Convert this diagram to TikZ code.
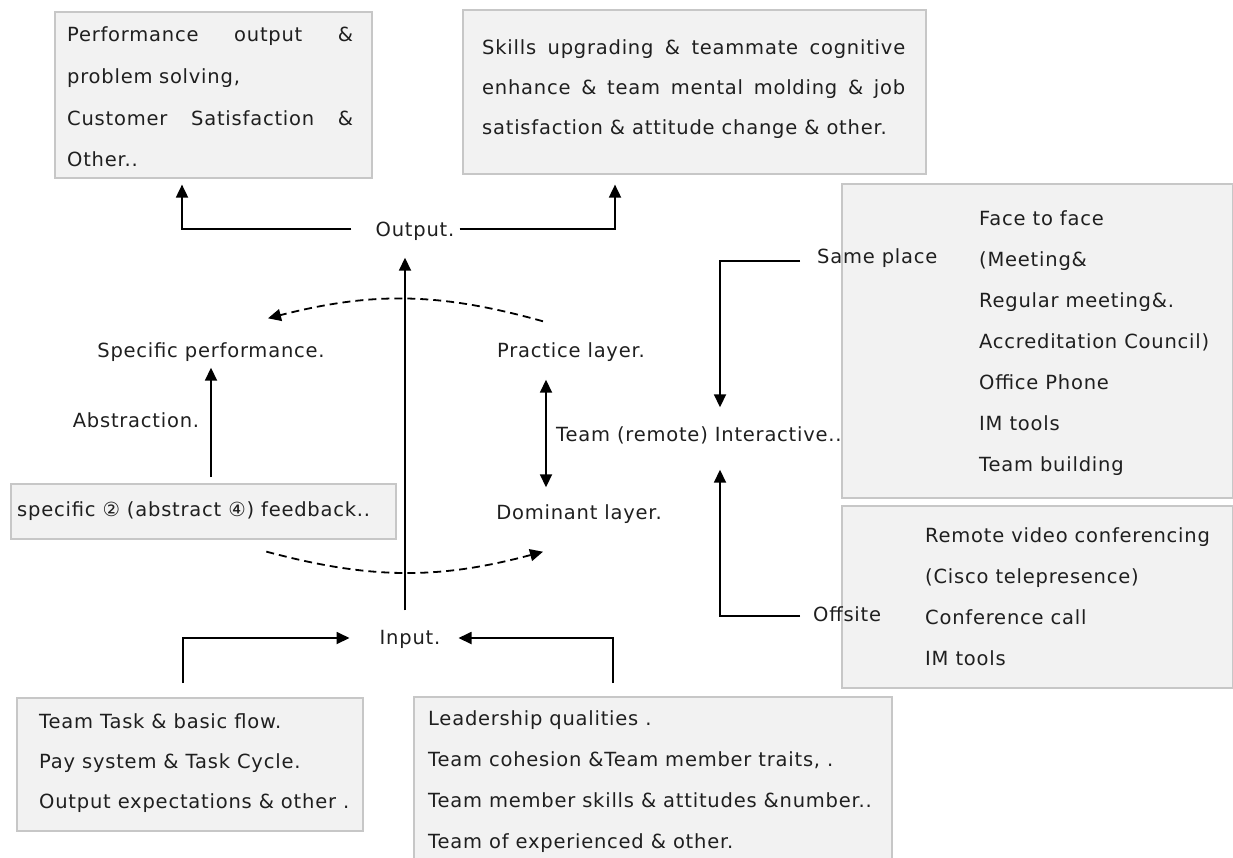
\documentclass[tikz,border=0pt]{standalone}
\usepackage{fontspec}
\newfontfamily\diagfont[LetterSpace=4]{DejaVu Sans}
\usetikzlibrary{arrows.meta,positioning,calc}

\begin{document}
\begin{tikzpicture}[
  x=1pt, y=-1pt,
  panel/.style={fill=black!5, draw=black!22, line width=1.6pt, inner sep=0pt, anchor=north west},
  list_txt/.style={font=\diagfont\fontsize{19.5}{41}\selectfont, text=black!88, align=left, inner sep=0pt, anchor=north west},
  label_txt/.style={font=\diagfont\fontsize{19.5}{23}\selectfont, text=black!88, inner sep=0pt, text height=14pt, text depth=5pt},
  flow/.style={line width=1.8pt, -{Triangle[length=13pt,width=12pt]}},
  both_flow/.style={line width=1.8pt, {Triangle[length=13pt,width=12pt]}-{Triangle[length=13pt,width=12pt]}},
  feedback/.style={line width=1.8pt, dash pattern=on 8pt off 5pt, -{Triangle[length=13pt,width=12pt]}}
]

% frame of the figure
\useasboundingbox (0,0) rectangle (1233,857);
\clip (0,0) rectangle (1233,857);

% grey panels
\node[panel, minimum width=317pt, minimum height=166pt] (perfbox) at (54,11) {};
\node[panel, minimum width=463pt, minimum height=164pt] (skillbox) at (462,9) {};
\node[panel, minimum width=391pt, minimum height=314pt] (facebox) at (841,183) {};
\node[panel, minimum width=391pt, minimum height=182pt] (remotebox) at (841,505) {};
\node[panel, minimum width=385pt, minimum height=55pt] (fbbox) at (10,483) {};
\node[panel, minimum width=346pt, minimum height=133pt] (taskbox) at (16,697) {};
\node[panel, minimum width=478pt, minimum height=175pt] (leadbox) at (413,696) {};

% panel texts
\node[list_txt, text width=286pt, font=\diagfont\fontsize{19.5}{41.7}\selectfont] (perftxt)
  at ([xshift=13pt,yshift=-15.6pt]perfbox.north west)
  {Performance\hfill output\hfill\&\\problem solving,\\Customer\hfill Satisfaction\hfill\&\\Other..};
\node[list_txt, text width=423pt, align=justify, font=\diagfont\fontsize{19.5}{40}\selectfont] (skilltxt)
  at ([xshift=20pt,yshift=-30.6pt]skillbox.north west)
  {Skills upgrading \& teammate cognitive\linebreak enhance \& team mental molding \& job\linebreak satisfaction \& attitude change \& other.};
\node[list_txt] (facetxt) at ([xshift=138pt,yshift=-27.6pt]facebox.north west)
  {Face to face\\(Meeting\&\\Regular meeting\&.\\Accreditation Council)\\Office Phone\\IM tools\\Team building};
\node[list_txt] (remotetxt) at ([xshift=84pt,yshift=-22.6pt]remotebox.north west)
  {Remote video conferencing\\(Cisco telepresence)\\Conference call\\IM tools};
\node[list_txt] (fbtxt) at ([xshift=7pt,yshift=-18.6pt]fbbox.north west)
  {specific ② (abstract ④) feedback..};
\node[list_txt, font=\diagfont\fontsize{19.5}{40}\selectfont] (tasktxt) at ([xshift=23pt,yshift=-16.6pt]taskbox.north west)
  {Team Task \& basic flow.\\Pay system \& Task Cycle.\\Output expectations \& other .};
\node[list_txt] (leadtxt) at ([xshift=15pt,yshift=-14.6pt]leadbox.north west)
  {Leadership qualities .\\Team cohesion \&Team member traits, .\\Team member skills \& attitudes \&number..\\Team of experienced \& other.};

% free labels
\node[label_txt] (out) at (415,232) {Output.};
\node[label_txt] (inp) at (410,640) {Input.};
\node[label_txt] (spec) at (211,353) {Specific performance.};
\node[label_txt] (prac) at (571,353) {Practice layer.};
\node[label_txt] (abst) at (136,423) {Abstraction.};
\node[label_txt] (dom) at (579,515) {Dominant layer.};
\node[label_txt, anchor=west] (team) at (556,437) {Team (remote) Interactive..};
\node[label_txt, anchor=west] (same) at (817,259) {Same place};
\node[label_txt, anchor=west] (off) at (813,617) {Offsite};

% columns of the elbow connectors
\coordinate (colA) at (182,0);
\coordinate (colB) at (615,0);
\coordinate (colC) at (183,0);
\coordinate (colD) at (613,0);
\coordinate (axis) at (405,0);
\coordinate (lay) at (546,0);
\coordinate (link) at (720,0);

% output branches
\draw[flow, shorten >=6pt] ([xshift=-24pt,yshift=3pt]out.west) -| (perfbox.south -| colA);
\draw[flow, shorten >=10pt] ([xshift=5pt,yshift=3pt]out.east) -| (skillbox.south -| colB);

% input to output
\draw[flow, shorten <=20pt, shorten >=16pt] (inp.north -| axis) -- (out.south -| axis);

% input branches
\draw[flow, shorten <=14pt] (taskbox.north -| colC) |- ([xshift=-30pt,yshift=2pt]inp.west);
\draw[flow, shorten <=13pt] (leadbox.north -| colD) |- ([xshift=18pt,yshift=2pt]inp.east);

% abstraction and layers
\draw[flow, shorten <=6pt, shorten >=5pt] (fbbox.north -| spec) -- (spec.south);
\draw[both_flow, shorten <=17pt, shorten >=18pt] (prac.south -| lay) -- (dom.north -| lay);

% feedback loops
\draw[feedback] ([xshift=-28pt,yshift=22pt]prac.north) to[bend right=15] ([xshift=57pt,yshift=25pt]spec.north);
\draw[feedback] ([xshift=63pt,yshift=-12pt]fbbox.south) to[bend right=15] ([xshift=-36pt,yshift=-27pt]dom.south);

% interaction links
\draw[flow, shorten >=20pt] ([xshift=-17pt,yshift=-2pt]same.west) -| (team.north -| link);
\draw[flow, shorten >=23pt] ([xshift=-13pt,yshift=1pt]off.west) -| (team.south -| link);

\end{tikzpicture}
\end{document}
